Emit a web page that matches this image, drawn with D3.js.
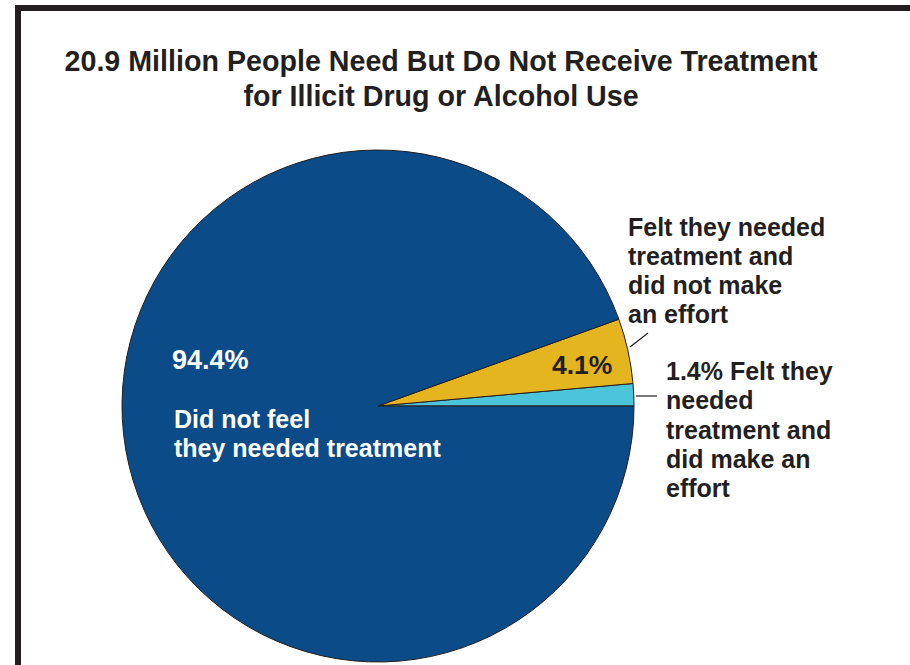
<!DOCTYPE html>
<html>
<head>
<meta charset="utf-8">
<script src="https://cdn.jsdelivr.net/npm/d3@7"></script>
<style>
  html, body { margin: 0; padding: 0; background: #ffffff; }
  svg { display: block; }
</style>
</head>
<body>
<svg id="chart" width="910" height="665"></svg>
<script>
// ---- data ----
const titleLines = ["20.9 Million People Need But Do Not Receive Treatment", "for Illicit Drug or Alcohol Use"];
const categories = ["Felt they needed treatment and did make an effort", "Felt they needed treatment and did not make an effort", "Did not feel they needed treatment"];
const values = [1.4, 4.1, 94.4];
const colors = ["#4cc5da", "#e5b520", "#0b4b88"];
const labelMadeEffort = ["1.4% Felt they", "needed", "treatment and", "did make an", "effort"];
const labelNoEffort = ["Felt they needed", "treatment and", "did not make", "an effort"];
const labelNoNeedPct = "94.4%";
const labelNoNeed = ["Did not feel", "they needed treatment"];
const labelYellowPct = "4.1%";

// ---- layout ----
const svg = d3.select("#chart");
const cx = 378, cy = 406, r = 256;
const ink = "#231f20";

// frame
svg.append("rect").attr("x", 18).attr("y", 8).attr("width", 1000).attr("height", 1000)
  .attr("fill", "none").attr("stroke", ink).attr("stroke-width", 6);

// title (horizontally condensed)
const titleG = svg.append("g").attr("transform", "translate(441,0) scale(0.955,1)");
titleG.append("text")
  .attr("x", 0).attr("y", 71)
  .attr("text-anchor", "middle")
  .attr("font-family", "'Liberation Sans', Arial, sans-serif")
  .attr("font-weight", "bold").attr("font-size", 30).attr("fill", ink)
  .selectAll("tspan").data(titleLines).join("tspan")
  .attr("x", 0).attr("dy", (d, i) => i === 0 ? 0 : 35)
  .text(d => d);

// pie
const pie = d3.pie().sort(null).value(d => d)
  .startAngle(Math.PI / 2).endAngle(Math.PI / 2 - 2 * Math.PI);
const arc = d3.arc().innerRadius(0).outerRadius(r);
const g = svg.append("g").attr("transform", `translate(${cx},${cy})`);
g.selectAll("path").data(pie(values)).join("path")
  .attr("d", arc)
  .attr("fill", (d, i) => colors[i])
  .attr("stroke", ink).attr("stroke-width", 1).attr("stroke-linejoin", "round");

const labelFont = "'Liberation Sans', Arial, sans-serif";

// inside labels
svg.append("text").attr("x", 172).attr("y", 369)
  .attr("font-family", labelFont).attr("font-weight", "bold").attr("font-size", 27)
  .attr("fill", "#ffffff").text(labelNoNeedPct);
svg.append("text").attr("font-family", labelFont).attr("font-weight", "bold").attr("font-size", 25)
  .attr("fill", "#ffffff")
  .selectAll("tspan").data(labelNoNeed).join("tspan")
  .attr("x", 174).attr("y", (d, i) => 428 + i * 29).text(d => d);

svg.append("text").attr("x", 552).attr("y", 374)
  .attr("font-family", labelFont).attr("font-weight", "bold").attr("font-size", 26.5)
  .attr("fill", ink).text(labelYellowPct);

// outside labels
svg.append("text").attr("font-family", labelFont).attr("font-weight", "bold").attr("font-size", 25)
  .attr("fill", ink)
  .selectAll("tspan").data(labelNoEffort).join("tspan")
  .attr("x", 628).attr("y", (d, i) => 236 + i * 29).text(d => d);

svg.append("text").attr("font-family", labelFont).attr("font-weight", "bold").attr("font-size", 25)
  .attr("fill", ink)
  .selectAll("tspan").data(labelMadeEffort).join("tspan")
  .attr("x", 666).attr("y", (d, i) => 380 + i * 29.3).text(d => d);

// leader lines
svg.append("line").attr("x1", 630).attr("y1", 347).attr("x2", 648).attr("y2", 333)
  .attr("stroke", ink).attr("stroke-width", 1.2);
svg.append("line").attr("x1", 636).attr("y1", 396).attr("x2", 657).attr("y2", 396)
  .attr("stroke", ink).attr("stroke-width", 1.2);
</script>
</body>
</html>
